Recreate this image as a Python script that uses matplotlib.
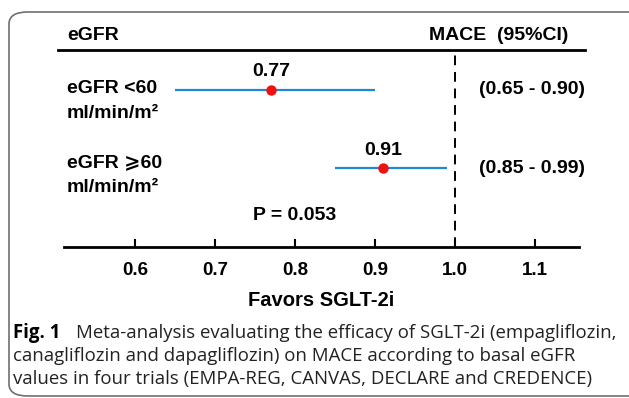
import matplotlib
matplotlib.use("Agg")
import matplotlib.pyplot as plt
from matplotlib.patches import FancyBboxPatch
from matplotlib.lines import Line2D

# ---- data ----
groups = ["eGFR <60\nml/min/m\u00b2", "eGFR \u2a7e60\nml/min/m\u00b2"]
estimates = [0.77, 0.91]
ci_low = [0.65, 0.85]
ci_high = [0.90, 0.99]
ci_labels = ["(0.65 - 0.90)", "(0.85 - 0.99)"]
xticks = [0.6, 0.7, 0.8, 0.9, 1.0, 1.1]
xticklabels = ["0.6", "0.7", "0.8", "0.9", "1.0", "1.1"]
p_text = "P = 0.053"
p_xpos = 0.80
ref_value = 1.0

W, H = 629, 398
fig = plt.figure(figsize=(W / 100, H / 100), dpi=100)
bold_family = ["Liberation Sans", "DejaVu Sans"]
FS = 14

def fx(px):
    return px / W

def fy(py):
    return 1 - py / H

# rounded frame
frame = FancyBboxPatch((fx(9), fy(396)), fx(700), fy(12) - fy(396),
                       boxstyle="round,pad=0,rounding_size=0.03",
                       transform=fig.transFigure, fill=False,
                       edgecolor="#707070", linewidth=1.2, clip_on=False)
fig.patches.append(frame)

# axes
ax_left, ax_right = 64, 579
ax_top, ax_bot = 49, 246.5
ax = fig.add_axes([fx(ax_left), fy(ax_bot), fx(ax_right - ax_left), (ax_bot - ax_top) / H])
ax.set_xlim(0.511, 1.155)
ax.set_ylim(2.0, -0.52)
for s in ["left", "right", "top"]:
    ax.spines[s].set_visible(False)
ax.spines["bottom"].set_linewidth(2.0)
ax.set_yticks([])
ax.set_xticks(xticks)
ax.set_xticklabels(xticklabels, fontsize=13.5, fontweight="bold", family=bold_family)
ax.tick_params(axis="x", direction="in", length=6, width=1.5, pad=11)
ax.patch.set_alpha(0)

ax.axvline(ref_value, color="black", linestyle=(0, (5, 3.5)), linewidth=1.4)

for i, (est, lo, hi) in enumerate(zip(estimates, ci_low, ci_high)):
    ax.plot([lo, hi], [i, i], color="#1e88d6", linewidth=1.6, solid_capstyle="butt")
    ax.plot(est, i, "o", color="#ee1111", markersize=7.5, markeredgewidth=0)
    ax.text(est, i - 0.12, f"{est:.2f}", ha="center", va="bottom",
            fontsize=FS, fontweight="bold", family=bold_family)
    ax.text(1.03, i, ci_labels[i], ha="left", va="center",
            fontsize=FS, fontweight="bold", family=bold_family)
    fig.text(fx(67), fy(101 + i * 74), groups[i], ha="left", va="center",
             fontsize=FS, fontweight="bold", family=bold_family, linespacing=1.55)

ax.text(p_xpos, 1.6, p_text, ha="center", va="center",
        fontsize=FS, fontweight="bold", family=bold_family)

ax.set_xlabel("Favors SGLT-2i", fontsize=14.5, fontweight="bold",
              family=bold_family, labelpad=9)

# header
fig.add_artist(Line2D([fx(58), fx(585)], [fy(49.5), fy(49.5)], color="black",
                      linewidth=2.0, transform=fig.transFigure))
fig.text(fx(67), fy(36), "eGFR", ha="left", va="center", fontsize=FS,
         fontweight="bold", family=bold_family)
fig.text(fx(568), fy(36), "MACE  (95%CI)", ha="right", va="center", fontsize=FS,
         fontweight="bold", family=bold_family)

# caption
cap_family = ["Open Sans", "DejaVu Sans"]
CFS = 13.4
fig.text(fx(13), fy(333), "Fig. 1", ha="left", va="center", fontsize=CFS,
         fontweight="bold", family=cap_family)
fig.text(fx(76), fy(333), "Meta-analysis evaluating the efficacy of SGLT-2i (empagliflozin,",
         ha="left", va="center", fontsize=CFS, family=cap_family, color="#222222")
fig.text(fx(13), fy(356), "canagliflozin and dapagliflozin) on MACE according to basal eGFR",
         ha="left", va="center", fontsize=CFS, family=cap_family, color="#222222")
fig.text(fx(13), fy(379), "values in four trials (EMPA-REG, CANVAS, DECLARE and CREDENCE)",
         ha="left", va="center", fontsize=CFS, family=cap_family, color="#222222")

fig.savefig("out.png", dpi=100)
